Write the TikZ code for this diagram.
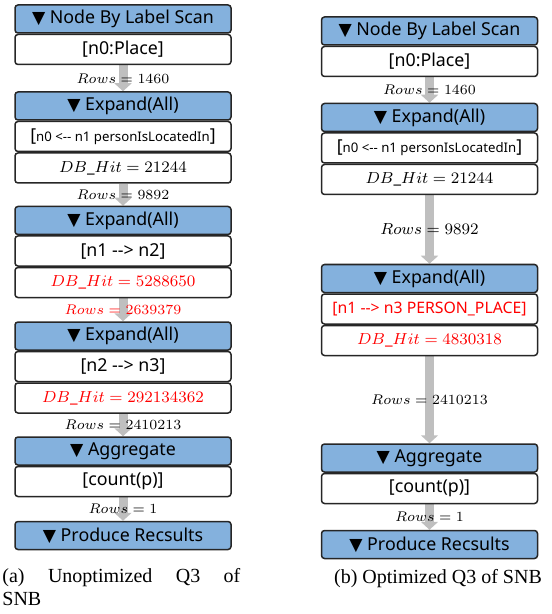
\documentclass[tikz,border=0pt]{standalone}
\usepackage{fontspec}
\setmainfont{Liberation Serif}
\newfontfamily\uifont{Noto Sans}
\newfontfamily\symfont{DejaVu Sans}
\usepackage{tikz}
\usetikzlibrary{arrows.meta, positioning, backgrounds}

\definecolor{headblue}{RGB}{132,177,221}
\definecolor{flowgray}{RGB}{191,191,191}
\newcommand{\tri}{{\symfont\fontsize{8.6}{9}\selectfont ▼}\ }
\newcommand{\dd}{-\kern0pt-}

\begin{document}
\begin{tikzpicture}[x=0.5pt, y=-0.5pt,
    hd/.style={draw=black!85, line width=0.75pt, rounded corners=1.5pt, fill=headblue,
        minimum width=108pt, minimum height=14pt, inner sep=0pt,
        font=\uifont\fontsize{8.9}{10}\selectfont},
    bd/.style={hd, fill=white, minimum height=15pt},
    flow/.style={draw=flowgray, line width=4.5pt, -{Triangle[width=8.5pt,length=4pt]}},
    lbl/.style={inner sep=0pt, font=\fontsize{7.3}{8}\selectfont}]
    \useasboundingbox (0,0) rectangle (551,614);

    % (a) unoptimized
    \node[hd] (L1h) at (123,19) {\tri Node By Label Scan};
    \node[bd, below=0pt of L1h] (L1b) {[n0:Place]};
    \node[hd] (L2h) at (123,106) {\tri Expand(All)};
    \node[bd, below=0pt of L2h] (L2b) {[{\fontsize{6.6}{8}\selectfont n0 <\dd{} n1 personIsLocatedIn}]};
    \node[bd, below=0pt of L2b] (L2c) {\fontsize{8.5}{10}\selectfont $DB\_Hit = 21244$};
    \node[hd] (L3h) at (123,220.5) {\tri Expand(All)};
    \node[bd, below=0pt of L3h] (L3b) {[n1 \dd> n2]};
    \node[bd, below=0pt of L3b, text=red] (L3c) {\fontsize{8.5}{10}\selectfont $DB\_Hit = 5288650$};
    \node[hd] (L4h) at (123,336) {\tri Expand(All)};
    \node[bd, below=0pt of L4h] (L4b) {[n2 \dd> n3]};
    \node[bd, below=0pt of L4b, text=red] (L4c) {\fontsize{8.5}{10}\selectfont $DB\_Hit = 292134362$};
    \node[hd] (L5h) at (123,451) {\tri Aggregate};
    \node[bd, below=0pt of L5h] (L5b) {[count(p)]};
    \node[hd] (L6h) at (123,535.5) {\tri Produce Recsults};

    % (b) optimized
    \node[hd] (R1h) at (429.5,31) {\tri Node By Label Scan};
    \node[bd, below=0pt of R1h] (R1b) {[n0:Place]};
    \node[hd] (R2h) at (429.5,117.5) {\tri Expand(All)};
    \node[bd, below=0pt of R2h] (R2b) {[{\fontsize{6.6}{8}\selectfont n0 <\dd{} n1 personIsLocatedIn}]};
    \node[bd, below=0pt of R2b] (R2c) {\fontsize{8.5}{10}\selectfont $DB\_Hit = 21244$};
    \node[hd] (R3h) at (429.5,278.5) {\tri Expand(All)};
    \node[bd, below=0pt of R3h, text=red] (R3b) {{\fontsize{7.9}{9}\selectfont [n1 \dd> n3 PERSON\_PLACE]}};
    \node[bd, below=0pt of R3b, text=red] (R3c) {\fontsize{8.5}{10}\selectfont $DB\_Hit = 4830318$};
    \node[hd] (R4h) at (429.5,458) {\tri Aggregate};
    \node[bd, below=0pt of R4h] (R4b) {[count(p)]};
    \node[hd] (R5h) at (429.5,544.5) {\tri Produce Recsults};

    \begin{scope}[on background layer]
        \draw[flow] (L1b) -- node[lbl] {$Rows = 1460$} (L2h);
        \draw[flow] (L2c) -- node[lbl] {$Rows = 9892$} (L3h);
        \draw[flow] (L3c) -- node[lbl, text=red] {$Rows = 2639379$} (L4h);
        \draw[flow] (L4c) -- node[lbl] {$Rows = 2410213$} (L5h);
        \draw[flow] (L5b) -- node[lbl] {$Rows = 1$} (L6h);
        \draw[flow] (R1b) -- node[lbl] {$Rows = 1460$} (R2h);
        \draw[flow] (R2c) -- node[lbl, font=\fontsize{8.2}{9}\selectfont] {$Rows = 9892$} (R3h);
        \draw[flow] (R3c) -- node[lbl] {$Rows = 2410213$} (R4h);
        \draw[flow] (R4b) -- node[lbl] {$Rows = 1$} (R5h);
    \end{scope}

    % captions
    \node[anchor=north west, inner sep=0pt, text width=119pt, align=justify,
        font=\fontsize{10}{11.5}\selectfont] (capa) at (2,568) {(a) Unoptimized Q3 of\linebreak SNB};
    \node[inner sep=0pt, font=\fontsize{10}{11.5}\selectfont] (capb) at (438,579) {(b) Optimized Q3 of SNB};
\end{tikzpicture}
\end{document}
